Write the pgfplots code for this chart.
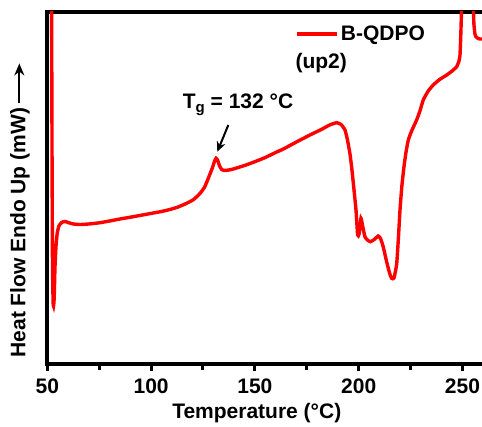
\documentclass[border=0pt]{standalone}
\usepackage{pgfplots}
\pgfplotsset{compat=1.18}
\usepackage{fontspec}
\setmainfont{Liberation Sans}
\usetikzlibrary{arrows.meta}
\newcommand{\bigf}{\fontsize{21}{24}\selectfont\bfseries}
\begin{document}
\begin{tikzpicture}
\begin{axis}[
  at={(0pt,0pt)}, anchor=south west,
  scale only axis, width=440.1pt, height=352.3pt,
  xmin=50, xmax=262, ymin=0, ymax=352.3,
  axis line style={line width=4pt},
  xtick={50,100,...,250},
  minor xtick={75,125,...,275},
  xtick pos=bottom, ytick=\empty,
  tick align=outside,
  major tick length=7pt, minor tick length=6pt,
  every tick/.style={black, line width=3pt},
  /pgf/number format/assume math mode=true,
  ticklabel style={font=\bigf},
  xticklabel style={yshift=-4pt},
  label style={font=\bigf},
  xlabel={Temperature (°C)},
  xlabel style={at={(rel axis cs:0.476,0)}, anchor=center, yshift=-49pt},
  ylabel={Heat Flow Endo Up (mW)\,\tikz[baseline=-0.55ex]\draw[-{Stealth[length=12pt,width=10pt]},line width=1.8pt] (0,0)--(40pt,0);},
  ylabel style={at={(rel axis cs:0,0.437)}, anchor=center, yshift=27.3pt},
  legend style={at={(axis cs:169.2,330)}, anchor=west, draw=none, fill=none, inner sep=0pt, font=\bigf},
  legend image code/.code={\draw[#1, line width=4pt] (0pt,0pt) -- (40pt,0pt);},
]
\addplot[red, line width=3.4pt, smooth, tension=0.3] coordinates {
(52.0,400) (52.1,340) (52.3,200) (52.5,100) (52.8,62) (53.0,58) (53.3,65)
(53.7,97) (54.2,118) (54.8,131) (55.6,138) (56.9,141.5) (58.5,142.5) (60,141.5)
(62.5,140) (65.8,139.5) (70,140) (75.4,141.3) (80,143) (85,145) (91.4,147.3)
(100.3,150.7) (105,152.5) (109.1,154.5) (113,157) (117.1,160.7) (120.5,164.5)
(123.6,170.7) (125.8,177) (127.6,186) (129.5,196) (130.6,203) (131.3,205.7)
(132.0,204) (133.0,198) (134.0,194.5) (135.1,193.5) (137.5,194) (139.6,195)
(145,198.5) (150,202.3) (155,206.5) (160,211.5) (163.7,215) (170,222)
(176.5,229) (182,234.5) (186,239) (189.4,241.3) (191.5,239.5) (193.4,234)
(194.6,224) (195.8,210) (196.6,197) (197.7,175) (198.7,154) (199.5,129)
(200.2,130) (201.1,145.7) (201.8,139) (203.0,127.3) (204.2,124) (205.7,122.3)
(207.5,124.5) (209.4,128) (210.5,125.5) (211.8,117.3) (213.5,102) (215,90)
(215.9,85.7) (217.0,86) (218.3,100) (219.1,125) (219.9,154) (220.8,178)
(221.8,197) (222.8,212) (223.9,224) (225.5,233) (227.9,244) (229.5,253)
(231.1,264) (233.5,273) (235.9,279) (239,284.5) (242.4,289) (245,293)
(247.2,297.3) (248.3,303) (248.8,309) (249.2,330) (249.6,360) (249.8,400)
(255.0,400) (255.2,360) (255.5,340) (256.0,330) (256.5,327.3) (257.5,325.5)
(258.4,325) (262,325)
};
\addlegendentry{B-QDPO}
\node[anchor=west, font=\bigf, inner sep=0pt] at (axis cs:169.5,301) {(up2)};
\node[font=\bigf] at (axis cs:141.9,259) {T\raisebox{-0.35ex}{\fontsize{15}{15}\selectfont g} = 132 °C};
\draw[-{Stealth[length=10pt,width=9pt]}, line width=2pt] (axis cs:137.2,239) -- (axis cs:131.9,212.3);
\end{axis}
\pgfresetboundingbox
\useasboundingbox (-47.3pt,-63pt) rectangle (434.7pt,364pt);
\end{tikzpicture}
\end{document}
